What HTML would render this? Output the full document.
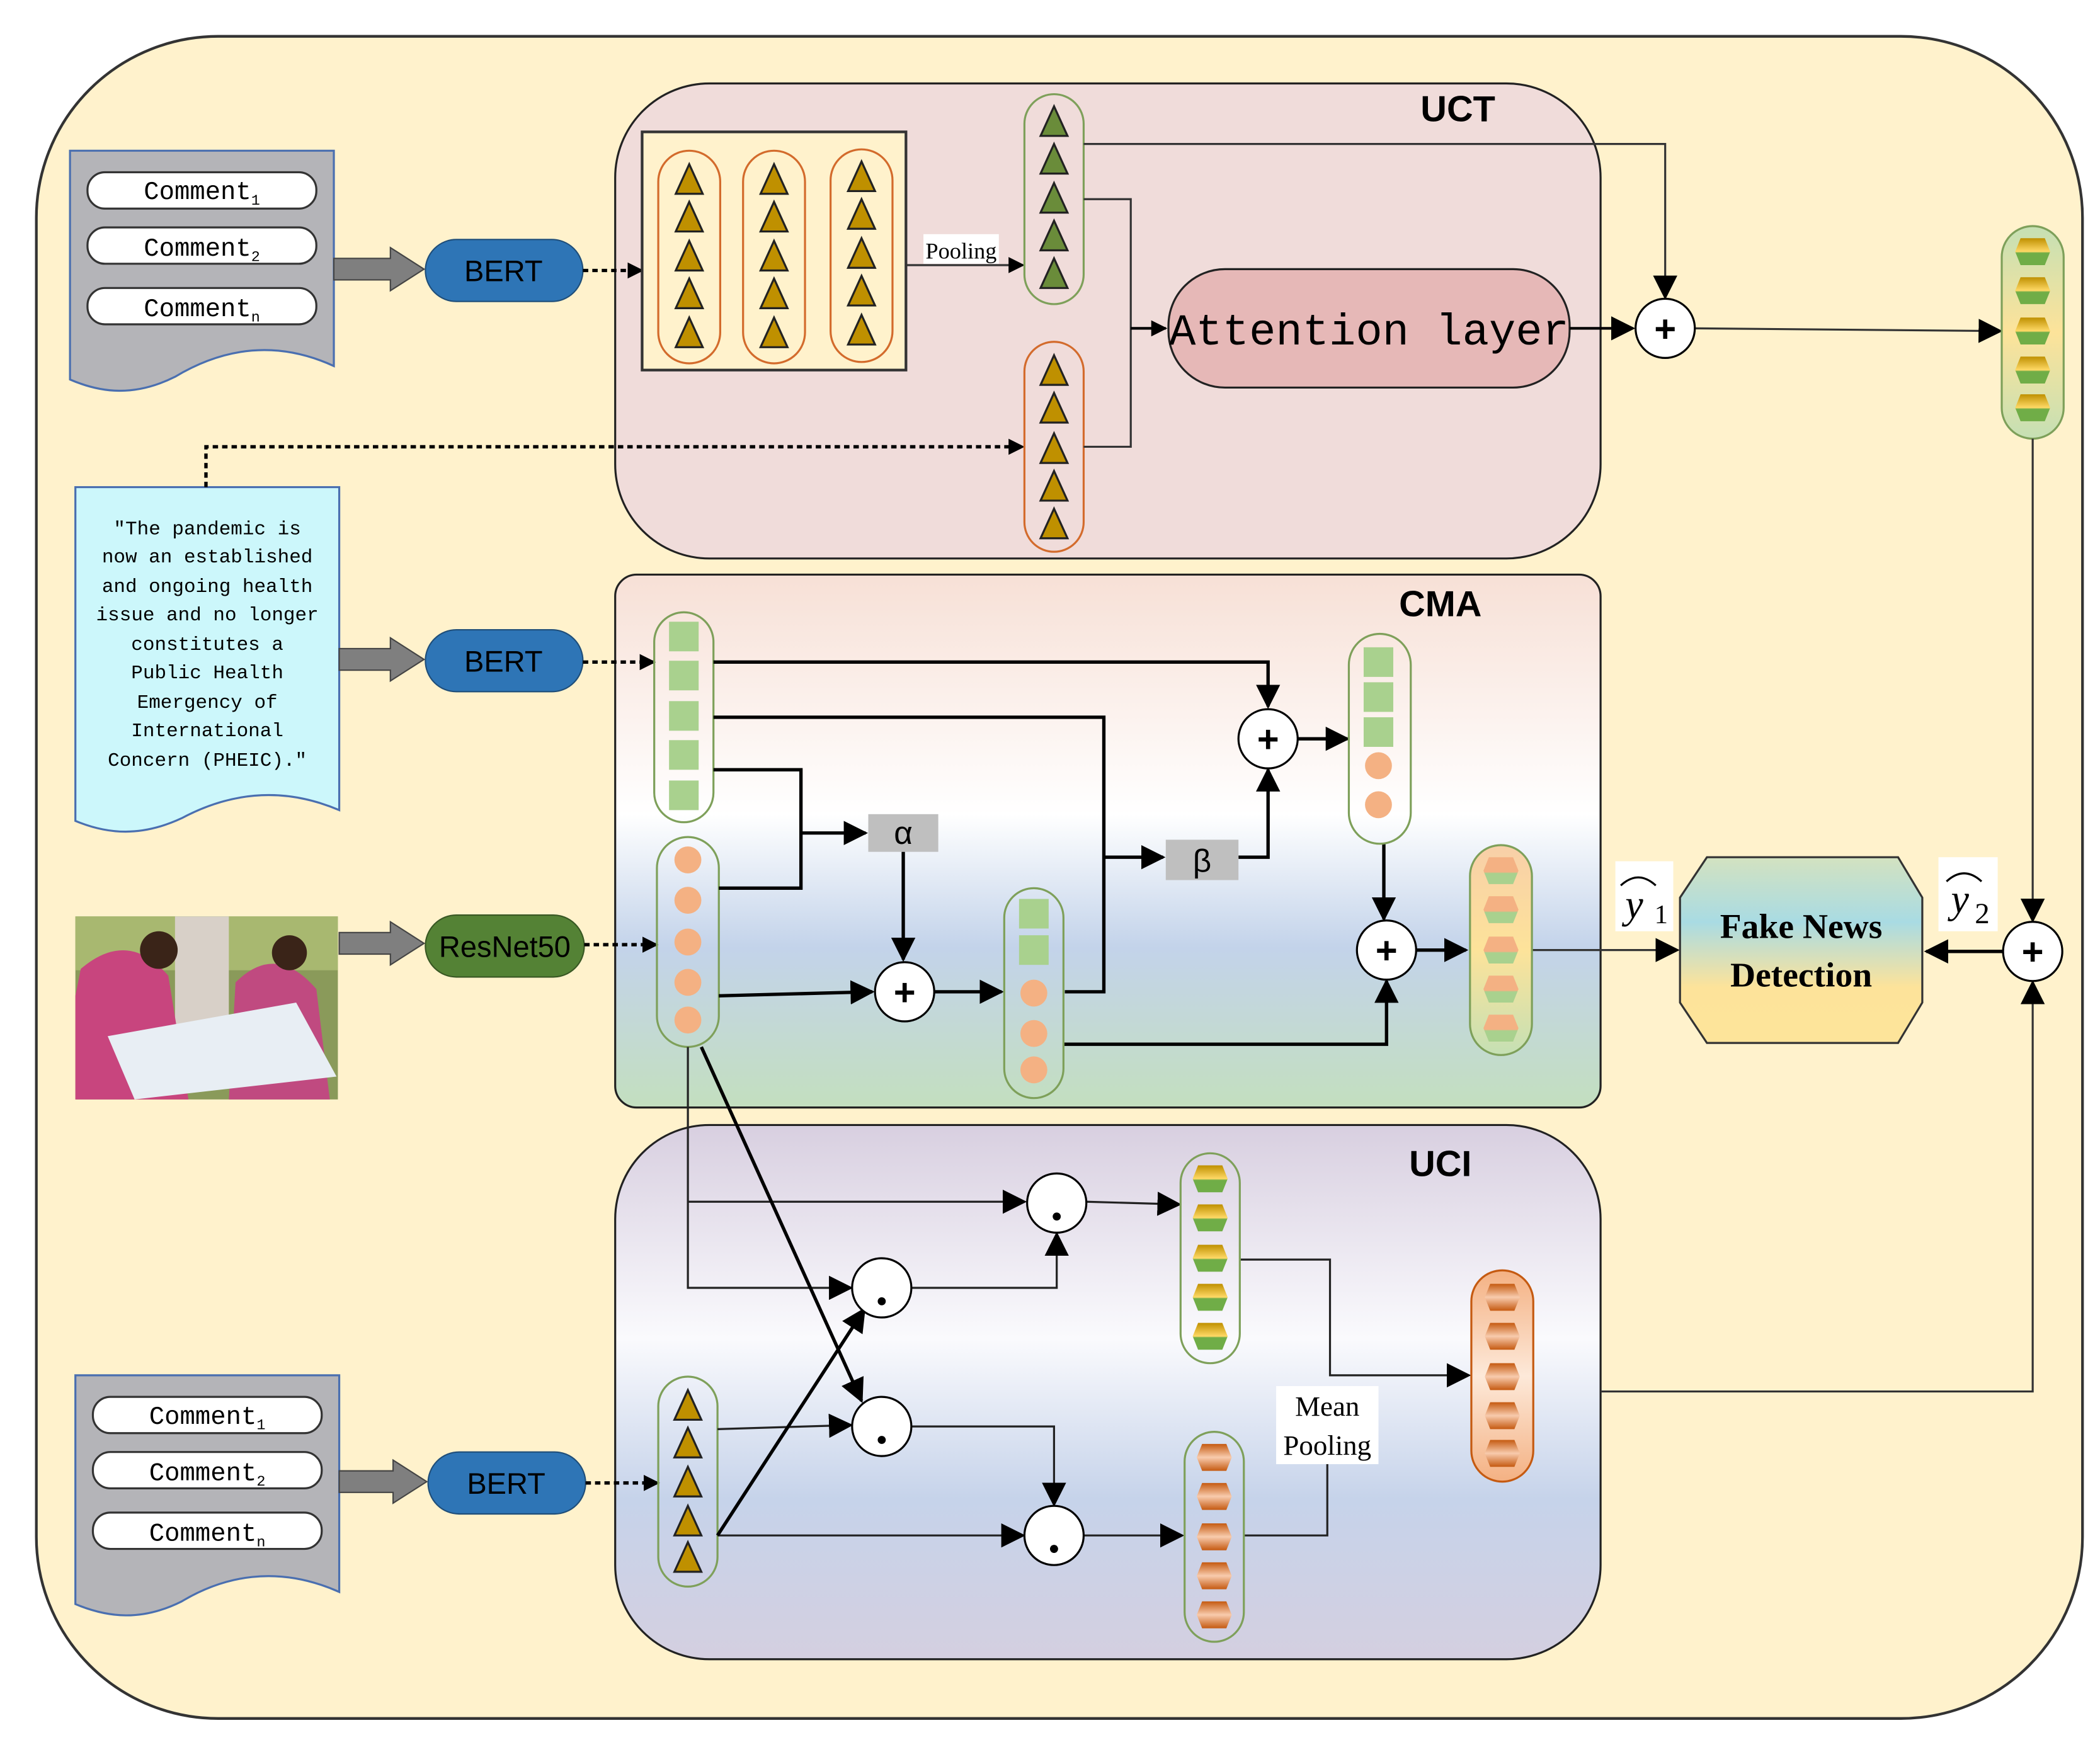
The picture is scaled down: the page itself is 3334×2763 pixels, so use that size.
<!DOCTYPE html>
<html><head><meta charset="utf-8"><style>html,body{margin:0;padding:0;background:#fff}svg{display:block}</style></head>
<body>
<svg width="3334" height="2763" viewBox="0 0 1560 1293" preserveAspectRatio="none" xmlns="http://www.w3.org/2000/svg" font-family="Liberation Sans, sans-serif">
<defs>
<marker id="ar" viewBox="0 0 10 10" refX="9" refY="5" markerWidth="7" markerHeight="7" orient="auto-start-reverse" markerUnits="userSpaceOnUse"><path d="M0,0 L10,5 L0,10 Z" fill="#000"/></marker>
<marker id="ab" viewBox="0 0 10 10" refX="9" refY="5" markerWidth="18" markerHeight="18" orient="auto" markerUnits="userSpaceOnUse"><path d="M0,0 L10,5 L0,10 Z" fill="#000"/></marker>
<marker id="as" viewBox="0 0 10 10" refX="9" refY="5" markerWidth="12" markerHeight="12" orient="auto" markerUnits="userSpaceOnUse"><path d="M0,0 L10,5 L0,10 Z" fill="#000"/></marker>
<linearGradient id="gCMA" x1="0" y1="0" x2="0" y2="1"><stop offset="0" stop-color="#f7e0d6"/><stop offset="0.45" stop-color="#ffffff"/><stop offset="0.7" stop-color="#c3d3ea"/><stop offset="1" stop-color="#c3dfbf"/></linearGradient>
<linearGradient id="gUCI" x1="0" y1="0" x2="0" y2="1"><stop offset="0" stop-color="#d8cfe0"/><stop offset="0.4" stop-color="#fafafd"/><stop offset="0.7" stop-color="#c6d3ea"/><stop offset="1" stop-color="#d4cfe0"/></linearGradient>
<linearGradient id="gFND" x1="0" y1="0" x2="0" y2="1"><stop offset="0" stop-color="#d3e2c0"/><stop offset="0.35" stop-color="#a9dbe3"/><stop offset="0.7" stop-color="#fde39a"/><stop offset="1" stop-color="#fde49a"/></linearGradient>
<linearGradient id="gRC" x1="0" y1="0" x2="0" y2="1"><stop offset="0" stop-color="#f8cfa8"/><stop offset="0.5" stop-color="#fde39a"/><stop offset="1" stop-color="#c5e0b4"/></linearGradient>
<linearGradient id="gRT" x1="0" y1="0" x2="0" y2="1"><stop offset="0" stop-color="#c5e0b4"/><stop offset="0.5" stop-color="#fde39a"/><stop offset="1" stop-color="#c5e0b4"/></linearGradient>
<linearGradient id="gRU" x1="0" y1="0" x2="0" y2="1"><stop offset="0" stop-color="#f4b183"/><stop offset="0.5" stop-color="#fde9d9"/><stop offset="1" stop-color="#f4b183"/></linearGradient>
<linearGradient id="hx" x1="0" y1="0" x2="0" y2="1"><stop offset="0" stop-color="#f4b183"/><stop offset="0.55" stop-color="#f4b183"/><stop offset="0.6" stop-color="#a9d18e"/><stop offset="1" stop-color="#a9d18e"/></linearGradient>
<linearGradient id="hy" x1="0" y1="0" x2="0" y2="1"><stop offset="0" stop-color="#bf9000"/><stop offset="0.5" stop-color="#ffd966"/><stop offset="0.55" stop-color="#70ad47"/><stop offset="1" stop-color="#70ad47"/></linearGradient>
<linearGradient id="hz" x1="0" y1="0" x2="0" y2="1"><stop offset="0" stop-color="#c55a11"/><stop offset="0.5" stop-color="#f8cbad"/><stop offset="1" stop-color="#c55a11"/></linearGradient>
<g id="tri"><path d="M0,-12 L10,10 L-10,10 Z" fill="#bf9000" stroke="#222" stroke-width="1.5"/></g>
<g id="triG"><path d="M0,-12 L10,10 L-10,10 Z" fill="#6a8c3a" stroke="#222" stroke-width="1.5"/></g>
<g id="sq"><rect x="-11" y="-11" width="22" height="22" fill="#a9d18e"/></g>
<g id="ci"><circle r="10" fill="#f4b183"/></g>
<g id="hex"><path d="M-9,-10 L9,-10 L13,0 L9,10 L-9,10 L-13,0 Z" fill="url(#hx)"/></g>
<g id="hexY"><path d="M-9,-10 L9,-10 L13,0 L9,10 L-9,10 L-13,0 Z" fill="url(#hy)"/></g>
<g id="hexO"><path d="M-9,-10 L9,-10 L13,0 L9,10 L-9,10 L-13,0 Z" fill="url(#hz)"/></g>
</defs>
<rect width="1560" height="1293" fill="#fff"/>
<rect x="27" y="27" width="1520" height="1250" rx="135" fill="#fff2cc" stroke="#333" stroke-width="2"/>

<!-- section boxes -->
<rect x="457" y="62" width="732" height="353" rx="70" fill="#f0dcda" stroke="#222" stroke-width="1.5"/>
<rect x="457" y="427" width="732" height="396" rx="16" fill="url(#gCMA)" stroke="#222" stroke-width="1.5"/>
<rect x="457" y="836" width="732" height="397" rx="70" fill="url(#gUCI)" stroke="#222" stroke-width="1.5"/>
<text x="1083" y="90" font-size="27" font-weight="bold" text-anchor="middle">UCT</text>
<text x="1070" y="458" font-size="27" font-weight="bold" text-anchor="middle">CMA</text>
<text x="1070" y="874" font-size="27" font-weight="bold" text-anchor="middle">UCI</text>

<!-- comment docs -->
<path d="M52,112 H248 V272 C200,250 160,262 130,280 C100,295 75,292 52,282 Z" fill="#b4b4b8" stroke="#4a6fb0" stroke-width="1.5"/>
<g font-family="Liberation Mono, monospace" font-size="19" text-anchor="middle">
<rect x="65" y="128" width="170" height="27" rx="13" fill="#fff" stroke="#333" stroke-width="1.5"/><text x="150" y="148">Comment<tspan font-size="11" dy="4">1</tspan></text>
<rect x="65" y="169" width="170" height="27" rx="13" fill="#fff" stroke="#333" stroke-width="1.5"/><text x="150" y="190">Comment<tspan font-size="11" dy="4">2</tspan></text>
<rect x="65" y="214" width="170" height="27" rx="13" fill="#fff" stroke="#333" stroke-width="1.5"/><text x="150" y="235">Comment<tspan font-size="11" dy="4">n</tspan></text>
</g>
<path d="M56,1022 H252 V1183 C205,1162 165,1172 135,1190 C105,1205 80,1202 56,1192 Z" fill="#b4b4b8" stroke="#4a6fb0" stroke-width="1.5"/>
<g font-family="Liberation Mono, monospace" font-size="19" text-anchor="middle">
<rect x="69" y="1038" width="170" height="27" rx="13" fill="#fff" stroke="#333" stroke-width="1.5"/><text x="154" y="1058">Comment<tspan font-size="11" dy="4">1</tspan></text>
<rect x="69" y="1079" width="170" height="27" rx="13" fill="#fff" stroke="#333" stroke-width="1.5"/><text x="154" y="1100">Comment<tspan font-size="11" dy="4">2</tspan></text>
<rect x="69" y="1124" width="170" height="27" rx="13" fill="#fff" stroke="#333" stroke-width="1.5"/><text x="154" y="1145">Comment<tspan font-size="11" dy="4">n</tspan></text>
</g>

<!-- text doc -->
<path d="M56,362 H252 V602 C205,582 165,592 135,608 C105,622 80,620 56,610 Z" fill="#ccf7fb" stroke="#4a6fb0" stroke-width="1.5"/>
<g font-family="Liberation Mono, monospace" font-size="14.5" text-anchor="middle">
<text x="154" y="397">"The pandemic is</text>
<text x="154" y="418">now an established</text>
<text x="154" y="440">and ongoing health</text>
<text x="154" y="461">issue and no longer</text>
<text x="154" y="483">constitutes a</text>
<text x="154" y="504">Public Health</text>
<text x="154" y="526">Emergency of</text>
<text x="154" y="547">International</text>
<text x="154" y="569">Concern (PHEIC)."</text>
</g>

<!-- image -->
<rect x="56" y="681" width="195" height="136" fill="#8a9a5a"/>
<rect x="56" y="681" width="195" height="40" fill="#a8b870"/>
<rect x="130" y="681" width="40" height="80" fill="#d8d0c8"/>
<path d="M60,720 Q95,690 125,725 L140,817 H56 V740 Z" fill="#c8457e"/>
<circle cx="118" cy="706" r="14" fill="#3a2418"/>
<path d="M175,730 Q205,700 235,735 L245,817 H170 Z" fill="#c04a80"/>
<circle cx="215" cy="708" r="13" fill="#3a2418"/>
<path d="M80,770 L220,745 L250,800 L100,817 Z" fill="#e8eef4"/>

<!-- gray block arrows -->
<g fill="#7f7f7f" stroke="#444" stroke-width="1">
<path d="M248,192 H290 V184 L315,200 L290,216 V208 H248 Z"/>
<path d="M252,482 H290 V474 L315,490 L290,506 V498 H252 Z"/>
<path d="M252,693 H290 V685 L315,701 L290,717 V709 H252 Z"/>
<path d="M252,1093 H292 V1085 L317,1101 L292,1117 V1109 H252 Z"/>
</g>
<!-- BERT pills -->
<g font-size="22" text-anchor="middle">
<rect x="316" y="178" width="117" height="46" rx="23" fill="#2e75b6" stroke="#1f4e79"/><text x="374" y="209">BERT</text>
<rect x="316" y="468" width="117" height="46" rx="23" fill="#2e75b6" stroke="#1f4e79"/><text x="374" y="499">BERT</text>
<rect x="316" y="680" width="118" height="46" rx="23" fill="#548235" stroke="#385723"/><text x="375" y="711">ResNet50</text>
<rect x="318" y="1079" width="117" height="46" rx="23" fill="#2e75b6" stroke="#1f4e79"/><text x="376" y="1110">BERT</text>
</g>
<g stroke="#000" stroke-width="2.5" stroke-dasharray="4,3" fill="none" marker-end="url(#as)">
<path d="M433,201 H477"/>
<path d="M433,492 H486"/>
<path d="M434,702 H488"/>
<path d="M435,1102 H489"/>
<path d="M153,362 V332 H760"/>
</g>

<!-- UCT internals -->
<rect x="477" y="98" width="196" height="177" fill="#fff2cc" stroke="#333" stroke-width="2"/>
<g fill="none" stroke="#d36b2c" stroke-width="1.5">
<rect x="489" y="112" width="46" height="158" rx="23"/>
<rect x="552" y="112" width="46" height="158" rx="23"/>
<rect x="617" y="111" width="46" height="158" rx="23"/>
</g>
<use href="#tri" x="512" y="134"/><use href="#tri" x="512" y="162"/><use href="#tri" x="512" y="191"/><use href="#tri" x="512" y="219"/><use href="#tri" x="512" y="248"/>
<use href="#tri" x="575" y="134"/><use href="#tri" x="575" y="162"/><use href="#tri" x="575" y="191"/><use href="#tri" x="575" y="219"/><use href="#tri" x="575" y="248"/>
<use href="#tri" x="640" y="132"/><use href="#tri" x="640" y="160"/><use href="#tri" x="640" y="189"/><use href="#tri" x="640" y="217"/><use href="#tri" x="640" y="246"/>
<path d="M673,197 H760" stroke="#333" stroke-width="1.5" marker-end="url(#as)"/>
<rect x="686" y="174" width="56" height="22" fill="#fff"/>
<text x="714" y="192" font-family="Liberation Serif, serif" font-size="17" text-anchor="middle">Pooling</text>
<rect x="761" y="70" width="44" height="156" rx="22" fill="none" stroke="#7ea05a" stroke-width="1.5"/>
<use href="#triG" x="783" y="91"/><use href="#triG" x="783" y="119"/><use href="#triG" x="783" y="148"/><use href="#triG" x="783" y="176"/><use href="#triG" x="783" y="204"/>
<rect x="761" y="254" width="44" height="156" rx="22" fill="none" stroke="#d36b2c" stroke-width="1.5"/>
<use href="#tri" x="783" y="276"/><use href="#tri" x="783" y="304"/><use href="#tri" x="783" y="334"/><use href="#tri" x="783" y="362"/><use href="#tri" x="783" y="390"/>
<path d="M805,148 H840 V332 H805" fill="none" stroke="#333" stroke-width="1.5"/>
<path d="M840,244 H866" stroke="#000" stroke-width="2" marker-end="url(#as)"/>
<rect x="868" y="200" width="298" height="88" rx="42" fill="#e6b8b7" stroke="#222" stroke-width="1.5"/>
<text x="1017" y="256" font-family="Liberation Mono, monospace" font-size="33" text-anchor="middle">Attention layer</text>
<path d="M1166,244 H1213" stroke="#000" stroke-width="2" marker-end="url(#ab)"/>
<path d="M805,107 H1237 V221" fill="none" stroke="#333" stroke-width="1.5" marker-end="url(#ab)"/>
<path d="M1259,244 L1486,246" stroke="#333" stroke-width="1.5" marker-end="url(#ab)"/>
<rect x="1487" y="168" width="46" height="158" rx="23" fill="url(#gRT)" stroke="#7ea05a" stroke-width="1.5"/>
<use href="#hexY" x="1510" y="187"/><use href="#hexY" x="1510" y="216"/><use href="#hexY" x="1510" y="246"/><use href="#hexY" x="1510" y="275"/><use href="#hexY" x="1510" y="303"/>
<path d="M1510,326 V684" stroke="#333" stroke-width="1.5" marker-end="url(#ab)"/>

<!-- CMA internals -->
<rect x="486" y="455" width="44" height="156" rx="22" fill="none" stroke="#7ea05a" stroke-width="1.5"/>
<use href="#sq" x="508" y="473"/><use href="#sq" x="508" y="502"/><use href="#sq" x="508" y="532"/><use href="#sq" x="508" y="561"/><use href="#sq" x="508" y="591"/>
<rect x="488" y="622" width="46" height="156" rx="23" fill="none" stroke="#7ea05a" stroke-width="1.5"/>
<use href="#ci" x="511" y="639"/><use href="#ci" x="511" y="669"/><use href="#ci" x="511" y="700"/><use href="#ci" x="511" y="730"/><use href="#ci" x="511" y="758"/>
<g fill="none" stroke="#000" stroke-width="2.5">
<path d="M530,492 H942 V525" marker-end="url(#ab)"/>
<path d="M530,533 H820 V737 H791"/>
<path d="M820,637 H864" marker-end="url(#ab)"/>
<path d="M920,637 H942 V572" marker-end="url(#ab)"/>
<path d="M530,572 H595 V660 H534"/>
<path d="M595,619 H643" marker-end="url(#ab)"/>
<path d="M671,633 V713" marker-end="url(#ab)"/>
<path d="M534,740 L648,737" marker-end="url(#ab)"/>
<path d="M694,737 H744" marker-end="url(#ab)"/>
<path d="M790,776 H1030 V729" marker-end="url(#ab)"/>
<path d="M964,549 H1001" marker-end="url(#ab)"/>
<path d="M1028,627 V683" marker-end="url(#ab)"/>
<path d="M1052,706 H1089" marker-end="url(#ab)"/>
</g>
<path d="M1138,706 H1246" stroke="#333" stroke-width="1.5" marker-end="url(#ab)"/>
<rect x="866" y="624" width="54" height="30" fill="#bfbfbf"/><text x="893" y="648" font-size="24" text-anchor="middle">β</text>
<rect x="645" y="605" width="52" height="28" fill="#bfbfbf"/><text x="671" y="627" font-size="24" text-anchor="middle">α</text>
<rect x="746" y="660" width="44" height="156" rx="22" fill="none" stroke="#7ea05a" stroke-width="1.5"/>
<use href="#sq" x="768" y="679"/><use href="#sq" x="768" y="706"/><use href="#ci" x="768" y="738"/><use href="#ci" x="768" y="768"/><use href="#ci" x="768" y="795"/>
<rect x="1002" y="471" width="46" height="156" rx="23" fill="none" stroke="#7ea05a" stroke-width="1.5"/>
<use href="#sq" x="1024" y="492"/><use href="#sq" x="1024" y="518"/><use href="#sq" x="1024" y="544"/><use href="#ci" x="1024" y="569"/><use href="#ci" x="1024" y="598"/>
<rect x="1092" y="628" width="46" height="156" rx="23" fill="url(#gRC)" stroke="#7ea05a" stroke-width="1.5"/>
<use href="#hex" x="1115" y="647"/><use href="#hex" x="1115" y="676"/><use href="#hex" x="1115" y="706"/><use href="#hex" x="1115" y="735"/><use href="#hex" x="1115" y="764"/>

<!-- plus circles -->
<g fill="#fff" stroke="#000" stroke-width="1.5">
<circle cx="942" cy="549" r="22"/><circle cx="672" cy="737" r="22"/><circle cx="1030" cy="706" r="22"/><circle cx="1237" cy="244" r="22"/><circle cx="1510" cy="707" r="22"/>
</g>
<g font-size="28" text-anchor="middle" font-weight="bold">
<text x="942" y="559">+</text><text x="672" y="747">+</text><text x="1030" y="716">+</text><text x="1237" y="254">+</text><text x="1510" y="717">+</text>
</g>

<!-- Fake news detection -->
<rect x="1200" y="640" width="43" height="52" fill="#fff"/>
<text x="1214" y="682" font-family="Liberation Serif, serif" font-style="italic" font-size="30" text-anchor="middle">y</text><text x="1229" y="686" font-family="Liberation Serif, serif" font-size="20">1</text>
<path d="M1204,658 Q1217,646 1230,658" fill="none" stroke="#000" stroke-width="1.5"/>
<rect x="1440" y="637" width="44" height="55" fill="#fff"/>
<text x="1456" y="678" font-family="Liberation Serif, serif" font-style="italic" font-size="30" text-anchor="middle">y</text><text x="1467" y="686" font-family="Liberation Serif, serif" font-size="22">2</text>
<path d="M1446,655 Q1459,643 1472,655" fill="none" stroke="#000" stroke-width="1.5"/>
<path d="M1268,637 H1410 L1428,667 V745 L1410,775 H1268 L1248,745 V667 Z" fill="url(#gFND)" stroke="#333" stroke-width="1.5"/>
<text x="1338" y="697" font-family="Liberation Serif, serif" font-size="26" font-weight="bold" text-anchor="middle">Fake News</text>
<text x="1338" y="733" font-family="Liberation Serif, serif" font-size="26" font-weight="bold" text-anchor="middle">Detection</text>
<path d="M1488,707 H1431" stroke="#000" stroke-width="2.5" marker-end="url(#ab)"/>
<path d="M1189,1034 H1510 V730" fill="none" stroke="#333" stroke-width="1.5" marker-end="url(#ab)"/>

<!-- UCI internals -->
<rect x="489" y="1023" width="44" height="156" rx="22" fill="none" stroke="#7ea05a" stroke-width="1.5"/>
<use href="#tri" x="511" y="1045"/><use href="#tri" x="511" y="1073"/><use href="#tri" x="511" y="1102"/><use href="#tri" x="511" y="1131"/><use href="#tri" x="511" y="1158"/>
<g fill="none" stroke="#222" stroke-width="1.5">
<path d="M511,778 V957 H632" marker-end="url(#ab)"/>
<path d="M511,893 H761" marker-end="url(#ab)"/>
<path d="M533,1062 L632,1059" marker-end="url(#ab)"/>
<path d="M533,1141 L760,1141" marker-end="url(#ab)"/>
<path d="M677,957 H785 V917" marker-end="url(#ab)"/>
<path d="M677,1060 H783 V1118" marker-end="url(#ab)"/>
<path d="M807,893 L876,895" marker-end="url(#ab)"/>
<path d="M805,1141 H878" marker-end="url(#ab)"/>
<path d="M921,936 H988 V1022 H1091" marker-end="url(#ab)"/>
<path d="M924,1141 H986 V1080"/>
</g>
<g fill="none" stroke="#000" stroke-width="2.5">
<path d="M521,778 L640,1041" marker-end="url(#ab)"/>
<path d="M533,1141 L642,973" marker-end="url(#ab)"/>
</g>
<g fill="#fff" stroke="#000" stroke-width="1.5">
<circle cx="785" cy="894" r="22"/><circle cx="655" cy="957" r="22"/><circle cx="655" cy="1060" r="22"/><circle cx="783" cy="1141" r="22"/>
</g>
<g fill="#000"><circle cx="785" cy="904" r="3"/><circle cx="655" cy="967" r="3"/><circle cx="655" cy="1070" r="3"/><circle cx="783" cy="1151" r="3"/></g>
<rect x="877" y="857" width="44" height="156" rx="22" fill="none" stroke="#7ea05a" stroke-width="1.5"/>
<use href="#hexY" x="899" y="876"/><use href="#hexY" x="899" y="905"/><use href="#hexY" x="899" y="935"/><use href="#hexY" x="899" y="964"/><use href="#hexY" x="899" y="993"/>
<rect x="880" y="1064" width="44" height="156" rx="22" fill="none" stroke="#7ea05a" stroke-width="1.5"/>
<use href="#hexO" x="902" y="1083"/><use href="#hexO" x="902" y="1112"/><use href="#hexO" x="902" y="1142"/><use href="#hexO" x="902" y="1171"/><use href="#hexO" x="902" y="1200"/>
<rect x="948" y="1030" width="76" height="58" fill="#fff"/>
<text x="986" y="1052" font-family="Liberation Serif, serif" font-size="21" text-anchor="middle">Mean</text>
<text x="986" y="1081" font-family="Liberation Serif, serif" font-size="21" text-anchor="middle">Pooling</text>
<rect x="1093" y="944" width="46" height="157" rx="23" fill="url(#gRU)" stroke="#c55a11" stroke-width="1.5"/>
<use href="#hexO" x="1116" y="964"/><use href="#hexO" x="1116" y="993"/><use href="#hexO" x="1116" y="1023"/><use href="#hexO" x="1116" y="1052"/><use href="#hexO" x="1116" y="1080"/>
</svg>
</body></html>
